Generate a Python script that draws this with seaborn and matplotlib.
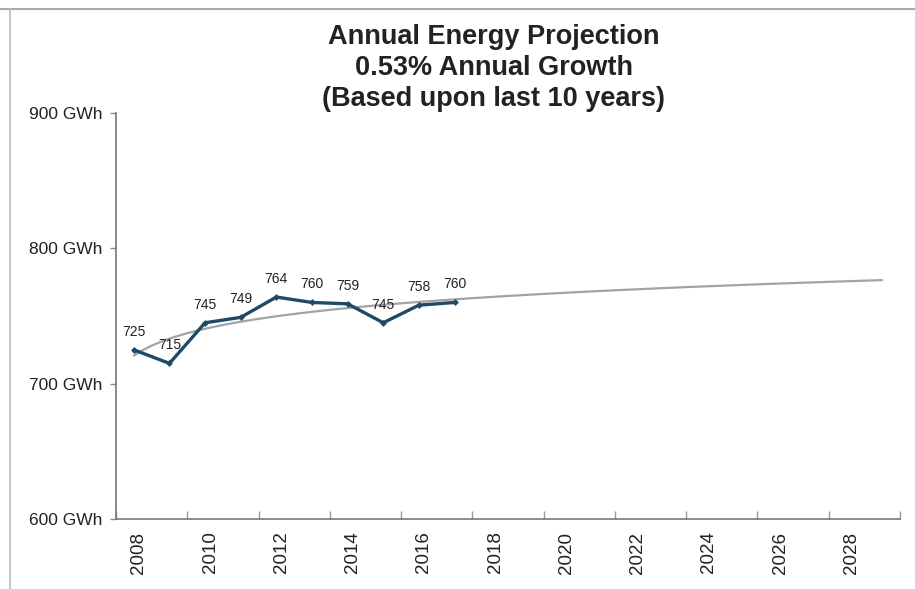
import numpy as np
import pandas as pd
import matplotlib
matplotlib.use("Agg")
import matplotlib.pyplot as plt
import seaborn as sns

# Actual energy per year (GWh)
years = [2008, 2009, 2010, 2011, 2012, 2013, 2014, 2015, 2016, 2017]
energy = [725, 715, 745, 749, 764, 760, 759, 745, 758, 760]

# Category axis runs 2008..2029
axis_years = list(range(2008, 2030))
y_ticks = [600, 700, 800, 900]
y_labels = ["600 GWh", "700 GWh", "800 GWh", "900 GWh"]

df = pd.DataFrame({"year": years, "energy": energy})
df["pos"] = df["year"] - 2007  # category position, 1-based

sns.set_style("white")
plt.rcParams["font.family"] = ["Liberation Sans", "DejaVu Sans"]

fig = plt.figure(figsize=(9.15, 5.89), dpi=100)
ax = fig.add_axes([116 / 915, 1 - 519 / 589, 784 / 915, 406 / 589])

# Logarithmic trendline over the whole projection range
ax.set_xlim(1, len(axis_years))
sns.regplot(data=df, x="pos", y="energy", logx=True, ci=None, truncate=False,
            scatter=False, ax=ax, line_kws={"color": "#a3a3a3", "lw": 1.6, "zorder": 2})

# Actual values
sns.lineplot(data=df, x="pos", y="energy", ax=ax, color="#1e4a6a", lw=2.4,
             marker="D", markersize=3.5, markeredgewidth=0, zorder=3)

for p, v in zip(df["pos"], df["energy"]):
    ax.annotate(str(v), (p, v), xytext=(0, 8), textcoords="offset points",
                ha="center", va="bottom", fontsize=10, color="#222222")

ax.set_xlim(0.5, len(axis_years) + 0.5)
ax.set_ylim(600, 900)

ax.set_yticks(y_ticks)
ax.set_yticklabels(y_labels, fontsize=12.5, color="#222222")
# year labels sit a little right of the category centre, as in the scan
label_pos = [y - 2007 + 0.14 for y in axis_years[::2]]
ax.set_xticks(label_pos)
ax.set_xticklabels([str(y) for y in axis_years[::2]], rotation=90, fontsize=13.5, color="#222222")
ax.tick_params(axis="x", length=0, pad=9)
ax.tick_params(axis="y", direction="out", length=4, width=1, color="#888888", pad=6, left=True)
# tick marks at every other category boundary
ax.set_xticks(np.arange(0.5, len(axis_years) + 1, 2), minor=True)
ax.tick_params(axis="x", which="minor", direction="in", length=6, width=1, color="#999999", bottom=True)

ax.set_xlabel("")
ax.set_ylabel("")
for s in ["top", "right"]:
    ax.spines[s].set_visible(False)
for s in ["left", "bottom"]:
    ax.spines[s].set_color("#777777")
    ax.spines[s].set_linewidth(1.2)

fig.text(494 / 915, 1 - 68 / 589,
         "Annual Energy Projection\n0.53% Annual Growth\n(Based upon last 10 years)",
         ha="center", va="center", fontsize=19.5, fontweight="bold", color="#222222",
         linespacing=1.27)

# scan frame
fig.add_artist(plt.Line2D([0, 1], [1 - 9 / 589, 1 - 9 / 589], color="#aaaaaa", lw=1.5))
fig.add_artist(plt.Line2D([10 / 915, 10 / 915], [0, 1 - 9 / 589], color="#bbbbbb", lw=1.2))

fig.savefig("out.png", dpi=100)
